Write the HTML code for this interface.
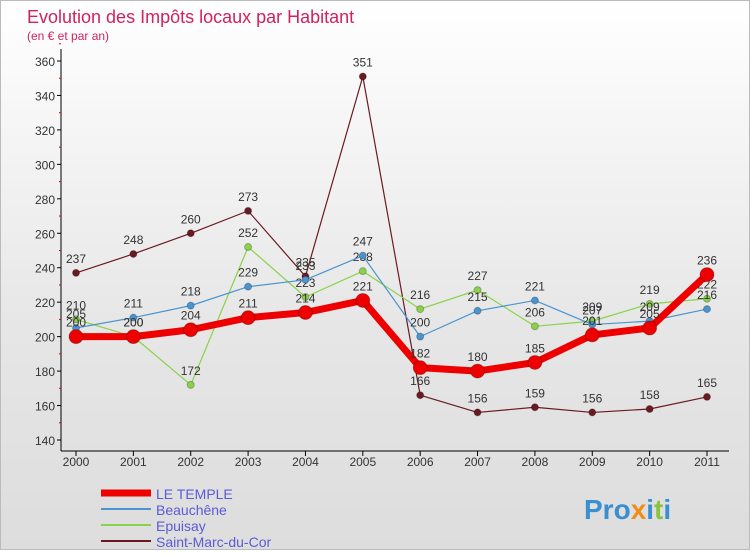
<!DOCTYPE html>
<html><head><meta charset="utf-8"><style>
body{margin:0;width:750px;height:550px;overflow:hidden;font-family:"Liberation Sans",sans-serif}
#wrap{position:relative;width:748px;height:548px;border:1px solid #bbb;background:linear-gradient(#fff,#e6e6e6 60%,#ddd)}
</style></head><body>
<div id="wrap">
<svg id="c" width="748" height="548"></svg>
</div>
<script>
const years=["2000","2001","2002","2003","2004","2005","2006","2007","2008","2009","2010","2011"];
const temple=[200,200,204,211,214,221,182,180,185,201,205,236];
const beauchene=[205,211,218,229,233,247,200,215,221,207,209,216];
const epuisay=[210,200,172,252,223,238,216,227,206,209,219,222];
const saintMarc=[237,248,260,273,235,351,166,156,159,156,158,165];
const yTicks=[140,160,180,200,220,240,260,280,300,320,340,360];
const NS="http://www.w3.org/2000/svg";
const svg=document.getElementById('c');
function X(i){return 75+i*(631/11);}
function Y(v){return 60+(360-v)*(379/220);}
function mk(t,a,p){const e=document.createElementNS(NS,t);for(const k in a)e.setAttribute(k,a[k]);(p||svg).appendChild(e);return e;}
let t=mk('text',{x:26,y:22,'font-size':18,fill:'#d2225a'});t.textContent='Evolution des Impôts locaux par Habitant';

t=mk('text',{x:26,y:39,'font-size':12,fill:'#d2225a'});t.textContent='(en € et par an)';

mk('line',{x1:60,y1:48,x2:60,y2:450,stroke:'#000'});
mk('line',{x1:60,y1:450,x2:728,y2:450,stroke:'#000'});
yTicks.forEach(v=>{
 mk('line',{x1:56,y1:Y(v),x2:60,y2:Y(v),stroke:'#000'});
 mk('line',{x1:58,y1:Y(v+10),x2:60,y2:Y(v+10),stroke:'#d00'});
 const e=mk('text',{x:54,y:Y(v)+5,'font-size':12,'text-anchor':'end',fill:'#333'});e.textContent=v;
 
});
years.forEach((y,i)=>{
 mk('line',{x1:X(i),y1:450,x2:X(i),y2:455,stroke:'#000'});
 const e=mk('text',{x:X(i),y:465,'font-size':12,'text-anchor':'middle',fill:'#333'});e.textContent=y;
 
});
function series(data,color,w,r,name){
 const g=mk('g',{});
 mk('polyline',{points:data.map((v,i)=>X(i)+','+Y(v)).join(' '),fill:'none',stroke:color,'stroke-width':w,'stroke-linejoin':'round'},g);
 data.forEach((v,i)=>{
  const c=mk('circle',{cx:X(i),cy:Y(v),r:r,fill:color,stroke:'rgba(0,0,0,0.25)'},g);
  
  const e=mk('text',{x:X(i),y:Y(v)-10,'font-size':12,'text-anchor':'middle',fill:'#333'},g);e.textContent=v;
 });
}
series(saintMarc,'#6b1a22',1.2,3.5,'saint-marc-series');
series(epuisay,'#8ad24a',1.2,3.5,'epuisay-series');
series(beauchene,'#4a94d0',1.2,3.5,'beauchene-series');
series(temple,'#ee0000',7,7,'le-temple-series');
const leg=[['LE TEMPLE','#ee0000',7],['Beauchêne','#4a94d0',2],['Epuisay','#8ad24a',2],['Saint-Marc-du-Cor','#6b1a22',2]];
leg.forEach((l,i)=>{
 const g=mk('g',{});
 const y=492+i*16;
 mk('line',{x1:100,y1:y,x2:150,y2:y,stroke:l[1],'stroke-width':l[2]},g);
 const e=mk('text',{x:155,y:y+6,'font-size':14,fill:'#5b5bd6'},g);e.textContent=l[0];
});
t=mk('text',{x:583,y:518,'font-size':28,'font-weight':'bold',fill:'#3a8fd0'});
t.innerHTML='Pro<tspan fill="#f28c1a">x</tspan>i<tspan fill="#8ac43f">t</tspan>i';

</script>
</body></html>
